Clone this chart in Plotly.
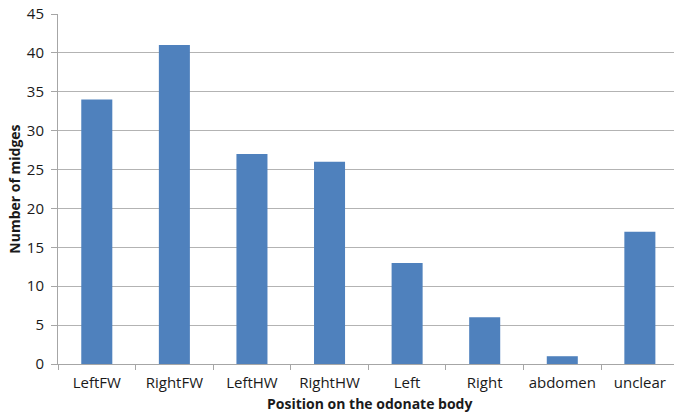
import plotly.graph_objects as go

categories = ["LeftFW", "RightFW", "LeftHW", "RightHW", "Left", "Right", "abdomen", "unclear"]
midges = [34, 41, 27, 26, 13, 6, 1, 17]
y_ticks = [0, 5, 10, 15, 20, 25, 30, 35, 40, 45]

fig = go.Figure()
fig.add_trace(go.Bar(
    x=categories, y=midges,
    marker=dict(color="#4F81BD", line=dict(width=0)),
    width=0.4,
))

font_family = "Open Sans, sans-serif"
fig.update_layout(
    width=674, height=415,
    margin=dict(l=58, r=0, t=14, b=51),
    paper_bgcolor="white", plot_bgcolor="white",
    showlegend=False,
    font=dict(family=font_family, size=15, color="#1a1a1a"),
)
fig.update_xaxes(
    range=[-0.5, 7.44],
    automargin=False,
    tickson="boundaries",
    ticks="outside", ticklen=5, tickcolor="#a6a6a6",
    showline=True, linecolor="#a6a6a6", linewidth=1,
    showgrid=False,
    tickfont=dict(size=15),
    ticklabelstandoff=5,
)
fig.update_yaxes(
    range=[0, 45], tickvals=y_ticks,
    automargin=False,
    ticks="outside", ticklen=6, tickcolor="#a6a6a6",
    showline=True, linecolor="#a6a6a6", linewidth=1,
    showgrid=True, gridcolor="#b3b3b3", gridwidth=1,
    zeroline=False,
    tickfont=dict(size=15),
    ticklabelstandoff=4,
)
fig.add_annotation(
    text="<b>Position on the odonate body</b>",
    xref="paper", yref="paper", x=0.505, y=-0.142,
    xanchor="center", yanchor="bottom", showarrow=False,
    font=dict(size=14), borderpad=0,
)
fig.add_annotation(
    text="<b>Number of midges</b>",
    xref="paper", yref="paper", x=-0.072, y=0.5,
    xanchor="center", yanchor="middle", showarrow=False, textangle=-90,
    font=dict(size=14),
)

fig.write_html(
    "out.html",
    config={"displayModeBar": False},
    post_script="document.body.style.margin='0';document.body.style.overflow='hidden';",
)
